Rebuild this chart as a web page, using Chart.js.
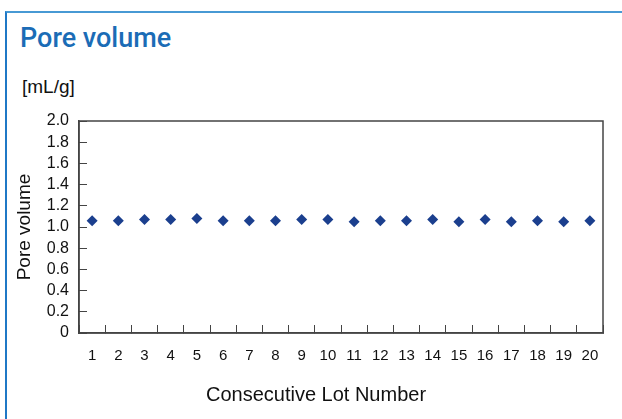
<!DOCTYPE html>
<html lang="en">
<head>
  <meta charset="UTF-8">
  <title>Pore volume</title>
  <script src="https://cdn.jsdelivr.net/npm/chart.js"></script>
  <style>
    html, body {
      margin: 0;
      padding: 0;
      background: #fff;
      width: 622px;
      height: 419px;
      overflow: hidden;
      font-family: "Liberation Sans", Arial, sans-serif;
    }

    .frame {
      position: absolute;
      left: 5px;
      top: 11px;
      width: 640px;
      height: 430px;
      border-top: 2px solid #4799d4;
      border-left: 2px solid #1f78c6;
    }

    h2 {
      position: absolute;
      left: 20px;
      top: 22px;
      margin: 0;
      font-family: Roboto, sans-serif;
      font-weight: 500;
      font-size: 27px;
      color: #1b6cb6;
      line-height: 32px;
    }

    .unit {
      position: absolute;
      left: 22px;
      top: 76px;
      font-size: 19px;
      color: #111;
    }

    .xtitle {
      position: absolute;
      left: 316px;
      top: 383px;
      transform: translateX(-50%);
      font-size: 20px;
      color: #111;
      white-space: nowrap;
    }

    .wrap {
      position: absolute;
      left: 0;
      top: 0;
      width: 622px;
      height: 419px;
    }
  </style>
</head>
<body>
  <div class="frame"></div>
  <h2>Pore volume</h2>
  <div class="unit">[mL/g]</div>
  <div class="wrap"><canvas id="grafico"></canvas></div>
  <div class="xtitle">Consecutive Lot Number</div>

  <script>
    const lots = ['1', '2', '3', '4', '5', '6', '7', '8', '9', '10',
                  '11', '12', '13', '14', '15', '16', '17', '18', '19', '20'];
    const poreVolume = [1.06, 1.06, 1.07, 1.07, 1.08, 1.06, 1.06, 1.06, 1.07, 1.07,
                        1.05, 1.06, 1.06, 1.07, 1.05, 1.07, 1.05, 1.06, 1.05, 1.06];
    const yMin = 0, yMax = 2.0, yStep = 0.2;

    // frame round the plot area
    const caixa = {
      id: 'caixa',
      afterDraw(chart) {
        const { ctx, chartArea: a } = chart;
        ctx.save();
        ctx.strokeStyle = '#444';
        ctx.lineWidth = 1.5;
        ctx.strokeRect(a.left, a.top, a.right - a.left, a.bottom - a.top);
        ctx.restore();
      }
    };

    const fonte = '"Liberation Sans", Arial, sans-serif';

    new Chart(document.getElementById('grafico'), {
      type: 'line',
      data: {
        labels: lots,
        datasets: [{
          label: 'Pore volume',
          data: poreVolume,
          showLine: false,
          pointStyle: 'rectRot',
          pointRadius: 5.5,
          pointBorderWidth: 0,
          pointBackgroundColor: '#1b3f8e',
          pointBorderColor: '#1b3f8e'
        }]
      },
      options: {
        responsive: true,
        maintainAspectRatio: false,
        animation: false,
        layout: { padding: { left: 0, top: 121, right: 19, bottom: 56 } },
        plugins: {
          legend: { display: false },
          tooltip: { enabled: false }
        },
        scales: {
          x: {
            offset: true,
            afterFit: (s) => { s.height = 30; },
            grid: {
              offset: true,
              drawOnChartArea: false,
              drawTicks: true,
              tickLength: -8,
              color: '#444',
              lineWidth: 1
            },
            border: { display: true, color: '#444', width: 1.5 },
            ticks: {
              font: { family: fonte, size: 15 },
              color: '#111',
              padding: 22,
              maxRotation: 0,
              autoSkip: false
            }
          },
          y: {
            min: yMin,
            max: yMax,
            afterFit: (s) => { s.width = 79; },
            grid: {
              drawOnChartArea: false,
              drawTicks: true,
              tickLength: -8,
              color: '#444',
              lineWidth: 1
            },
            border: { display: true, color: '#444', width: 1.5 },
            ticks: {
              stepSize: yStep,
              autoSkip: false,
              font: { family: fonte, size: 16 },
              color: '#111',
              padding: 18,
              callback: (v) => v === 0 ? '0' : v.toFixed(1)
            },
            title: {
              display: true,
              text: 'Pore volume',
              font: { family: fonte, size: 19 },
              color: '#111',
              padding: { top: 13, bottom: 0 }
            }
          }
        }
      },
      plugins: [caixa]
    });
  </script>
</body>
</html>
